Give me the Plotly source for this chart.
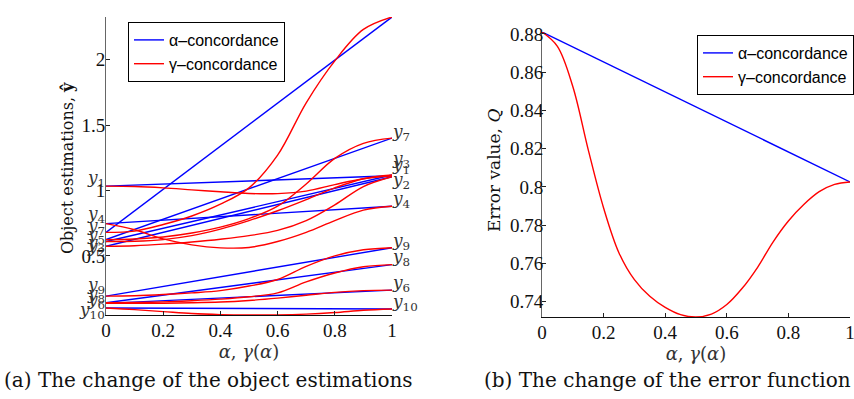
import plotly.graph_objects as go

# ---------------- data: left panel (object estimations) ----------------
alpha_grid = [0.0, 0.1, 0.2, 0.3, 0.4, 0.5, 0.6, 0.7, 0.8, 0.9, 1.0]
alpha_ends = [0.0, 1.0]

objects = ["1", "2", "3", "4", "5", "6", "7", "8", "9", "10"]
# alpha-concordance: straight lines between estimations at alpha=0 and alpha=1
est_start = [1.033, 0.574, 0.610, 0.747, 0.680, 0.138, 0.625, 0.142, 0.193, 0.102]
est_end = [1.112, 1.105, 1.118, 0.880, 2.325, 0.239, 1.400, 0.434, 0.563, 0.095]

# gamma-concordance: estimations read at alpha_grid
red_y1 = [1.033, 1.030, 1.020, 1.005, 0.990, 0.977, 0.976, 0.995, 1.045, 1.090, 1.112]
red_y2 = [0.574, 0.578, 0.590, 0.607, 0.628, 0.655, 0.695, 0.770, 0.890, 1.030, 1.105]
red_y3 = [0.610, 0.612, 0.625, 0.655, 0.705, 0.770, 0.845, 0.930, 1.020, 1.090, 1.118]
red_y4 = [0.747, 0.700, 0.630, 0.585, 0.562, 0.565, 0.610, 0.680, 0.770, 0.850, 0.880]
red_y5 = [0.680, 0.690, 0.740, 0.805, 0.895, 1.020, 1.270, 1.670, 1.990, 2.230, 2.325]
red_y6 = [0.138, 0.138, 0.139, 0.142, 0.148, 0.160, 0.178, 0.200, 0.222, 0.235, 0.239]
red_y7 = [0.625, 0.630, 0.645, 0.675, 0.720, 0.785, 0.880, 1.050, 1.245, 1.360, 1.400]
red_y8 = [0.142, 0.144, 0.149, 0.158, 0.170, 0.188, 0.218, 0.302, 0.370, 0.418, 0.434]
red_y9 = [0.193, 0.196, 0.205, 0.218, 0.235, 0.270, 0.320, 0.420, 0.500, 0.547, 0.563]
red_y10 = [0.102, 0.090, 0.075, 0.060, 0.052, 0.049, 0.050, 0.056, 0.068, 0.085, 0.095]
red_series = [red_y1, red_y2, red_y3, red_y4, red_y5, red_y6, red_y7, red_y8, red_y9, red_y10]

# label positions (text annotations next to the axes)
left_label_y = [1.089, 0.565, 0.597, 0.815, 0.658, 0.163, 0.726, 0.208, 0.277, 0.087]
right_label_y = [1.190, 1.076, 1.240, 0.930, 2.360, 0.290, 1.440, 0.485, 0.614, 0.145]

left_yticks = [0.5, 1, 1.5, 2]
left_yticktext = ["0.5", "1", "1.5", "2"]
xticks = [0, 0.2, 0.4, 0.6, 0.8, 1]
xticktext = ["0", "0.2", "0.4", "0.6", "0.8", "1"]

# ---------------- data: right panel (error function) ----------------
q_alpha_x = [0.0, 1.0]
q_alpha = [0.8810, 0.8026]
q_gamma_x = [0.0, 0.05, 0.10, 0.15, 0.20, 0.25, 0.30, 0.35, 0.40, 0.45, 0.50,
             0.55, 0.60, 0.65, 0.70, 0.75, 0.80, 0.85, 0.90, 0.95, 1.0]
q_gamma = [0.8810, 0.8735, 0.8525, 0.8195, 0.7890, 0.7655, 0.7515, 0.7428, 0.7370, 0.7332, 0.7320,
           0.7335, 0.7385, 0.7470, 0.7580, 0.7712, 0.7822, 0.7908, 0.7975, 0.8013, 0.8026]
right_yticks = [0.74, 0.76, 0.78, 0.80, 0.82, 0.84, 0.86, 0.88]
right_yticktext = ["0.74", "0.76", "0.78", "0.8", "0.82", "0.84", "0.86", "0.88"]

BLUE = "#0000ff"
RED = "#ff0000"
SERIF = "DejaVu Serif"
TICKFONT = dict(family="Liberation Serif", size=19, color="#111")
LW = 1.4

fig = go.Figure()

# left panel traces
for i, name in enumerate(objects):
    fig.add_trace(go.Scatter(
        x=alpha_ends, y=[est_start[i], est_end[i]], mode="lines",
        line=dict(color=BLUE, width=LW), name="α–concordance",
        showlegend=(i == 0), legendgroup="a", xaxis="x", yaxis="y", legend="legend"))
for i, name in enumerate(objects):
    fig.add_trace(go.Scatter(
        x=alpha_grid, y=red_series[i], mode="lines",
        line=dict(color=RED, width=LW, shape="spline", smoothing=1.0), name="γ–concordance",
        showlegend=(i == 0), legendgroup="g", xaxis="x", yaxis="y", legend="legend"))

# right panel traces
fig.add_trace(go.Scatter(x=q_alpha_x, y=q_alpha, mode="lines",
                         line=dict(color=BLUE, width=LW), name="α–concordance",
                         xaxis="x2", yaxis="y2", legend="legend2"))
fig.add_trace(go.Scatter(x=q_gamma_x, y=q_gamma, mode="lines",
                         line=dict(color=RED, width=LW, shape="spline", smoothing=1.0),
                         name="γ–concordance", xaxis="x2", yaxis="y2", legend="legend2"))

all_left = [v for s in red_series for v in s] + est_start + est_end
ymin_l, ymax_l = min(all_left), max(all_left)
ymin_r, ymax_r = min(q_gamma + q_alpha), max(q_gamma + q_alpha)

W, H = 854, 399
def px_x(p):
    return p / W
def px_y(p):
    return 1 - p / H

axis_common = dict(showgrid=False, zeroline=False, ticks="inside", ticklen=4,
                   tickcolor="#222", tickfont=TICKFONT, showline=True, mirror=False,
                   automargin=False, ticklabeloverflow="allow")

fig.update_layout(
    width=W, height=H, margin=dict(l=0, r=0, t=0, b=0, autoexpand=False),
    paper_bgcolor="white", plot_bgcolor="white",
    xaxis=dict(domain=[px_x(106), px_x(392)], anchor="y", range=[0, 1],
               tickvals=xticks, ticktext=xticktext, linecolor="#111", linewidth=1,
               ticklabelstandoff=-2,
               title=dict(text="<i>α</i>, <i>γ</i>(<i>α</i>)", font=dict(family=SERIF, size=18, color="#333"),
                          standoff=2),
               **axis_common),
    yaxis=dict(domain=[px_y(315), px_y(17)], anchor="x", range=[ymin_l, ymax_l],
               tickvals=left_yticks, ticktext=left_yticktext, linecolor="#666", linewidth=1,
               ticklabelstandoff=-4,
               **axis_common),
    xaxis2=dict(domain=[px_x(542), px_x(850)], anchor="y2", range=[0, 1],
                tickvals=xticks, ticktext=xticktext, linecolor="#111", linewidth=1,
                ticklabelstandoff=-2,
                title=dict(text="<i>α</i>, <i>γ</i>(<i>α</i>)", font=dict(family=SERIF, size=18, color="#333"),
                           standoff=0),
                **axis_common),
    yaxis2=dict(domain=[px_y(317), px_y(32)], anchor="x2", range=[ymin_r, ymax_r],
                tickvals=right_yticks, ticktext=right_yticktext, linecolor="#666", linewidth=1,
                ticklabelstandoff=-6,
                **axis_common),
    legend=dict(x=px_x(128), y=px_y(22), xanchor="left", yanchor="top",
                bgcolor="white", bordercolor="black", borderwidth=1,
                font=dict(family="Liberation Sans", size=16, color="black"),
                itemwidth=30, tracegroupgap=0),
    legend2=dict(x=px_x(697), y=px_y(35), xanchor="left", yanchor="top",
                 bgcolor="white", bordercolor="black", borderwidth=1,
                 font=dict(family="Liberation Sans", size=16, color="black"),
                 itemwidth=30, tracegroupgap=0),
    showlegend=True,
)

annotations = []
for i, name in enumerate(objects):
    txt = "<i>y</i><sub>%s</sub>" % name
    annotations.append(dict(x=0, y=left_label_y[i], xref="x", yref="y", text=txt,
                            showarrow=False, xanchor="right", yanchor="middle", xshift=1,
                            font=dict(family=SERIF, size=17, color="#333")))
    annotations.append(dict(x=1, y=right_label_y[i], xref="x", yref="y", text=txt,
                            showarrow=False, xanchor="left", yanchor="middle", xshift=-2,
                            font=dict(family=SERIF, size=17, color="#333")))

# y-axis titles
annotations.append(dict(x=px_x(67), y=px_y(168), xref="paper", yref="paper",
                        text="Object estimations, <b>ŷ</b>", textangle=-90, showarrow=False,
                        xanchor="center", yanchor="middle",
                        font=dict(family=SERIF, size=16, color="#111")))
annotations.append(dict(x=px_x(494), y=px_y(171), xref="paper", yref="paper",
                        text="Error value, <i>Q</i>", textangle=-90, showarrow=False,
                        xanchor="center", yanchor="middle",
                        font=dict(family=SERIF, size=17, color="#111")))

# sub-figure captions
annotations.append(dict(x=px_x(208), y=px_y(380), xref="paper", yref="paper",
                        text="(a) The change of the object estimations", showarrow=False,
                        xanchor="center", yanchor="middle",
                        font=dict(family=SERIF, size=20, color="#111")))
annotations.append(dict(x=px_x(667), y=px_y(380), xref="paper", yref="paper",
                        text="(b) The change of the error function", showarrow=False,
                        xanchor="center", yanchor="middle",
                        font=dict(family=SERIF, size=20, color="#111")))
fig.update_layout(annotations=annotations)

fig.write_html("out.html")
